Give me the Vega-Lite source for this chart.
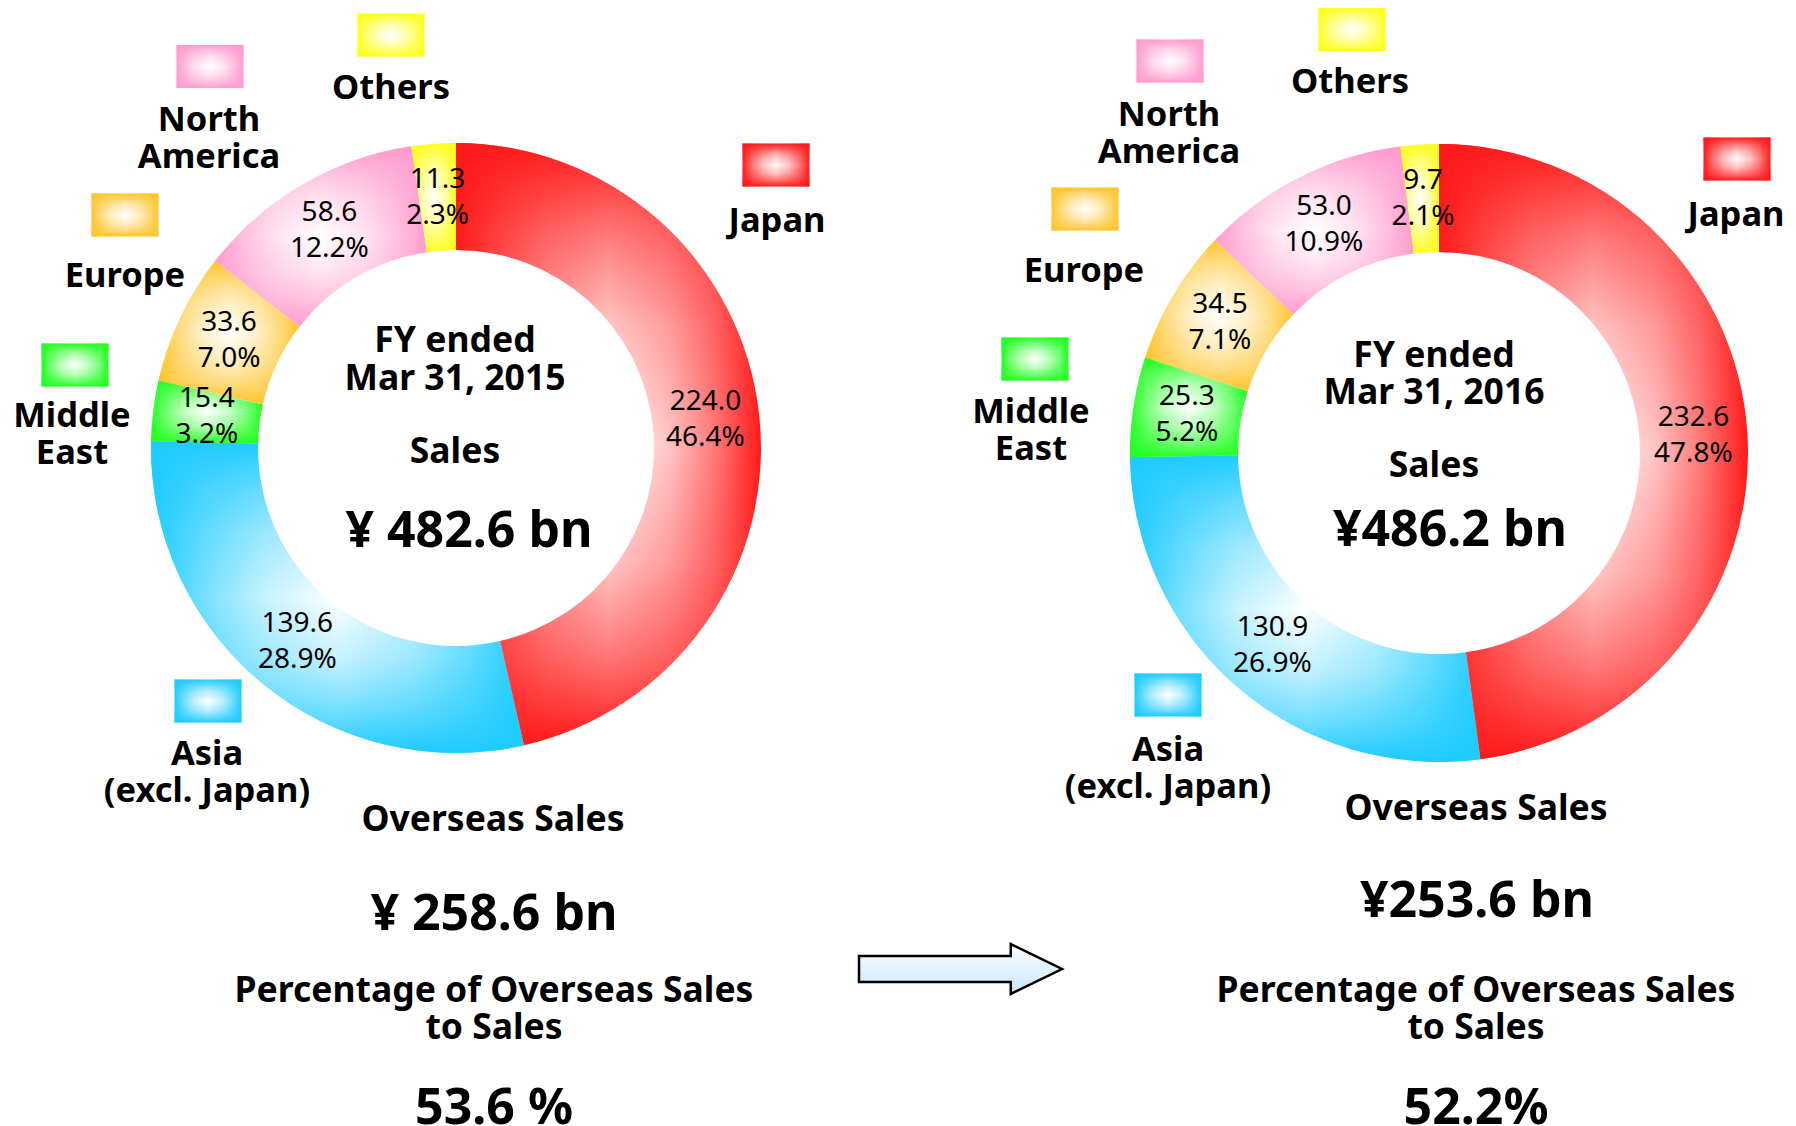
{
  "$schema": "https://vega.github.io/schema/vega-lite/v6.json",
  "width": 1796,
  "height": 1126,
  "autosize": "none",
  "padding": 0,
  "background": "white",
  "config": {"view": {"stroke": null}, "font": "Noto Sans", "text": {"font": "Noto Sans", "color": "#000000"}},
  "params": [
    {"name": "swatchX", "value": {"FY2015/Japan": 776, "FY2015/Asia": 208, "FY2015/Middle East": 75, "FY2015/Europe": 125, "FY2015/North America": 210, "FY2015/Others": 391, "FY2016/Japan": 1737, "FY2016/Asia": 1168, "FY2016/Middle East": 1035, "FY2016/Europe": 1085, "FY2016/North America": 1170, "FY2016/Others": 1352}},
    {"name": "swatchY", "value": {"FY2015/Japan": 165, "FY2015/Asia": 701, "FY2015/Middle East": 365, "FY2015/Europe": 215, "FY2015/North America": 66.5, "FY2015/Others": 35, "FY2016/Japan": 159, "FY2016/Asia": 695, "FY2016/Middle East": 359, "FY2016/Europe": 209, "FY2016/North America": 61, "FY2016/Others": 29.5}},
    {"name": "labelX", "value": {"FY2015/Japan": 777, "FY2015/Asia": 207, "FY2015/Middle East": 72, "FY2015/Europe": 125, "FY2015/North America": 209, "FY2015/Others": 391, "FY2016/Japan": 1736, "FY2016/Asia": 1168, "FY2016/Middle East": 1031, "FY2016/Europe": 1084, "FY2016/North America": 1169, "FY2016/Others": 1350}},
    {"name": "labelY", "value": {"FY2015/Japan": 205, "FY2015/Asia": 738, "FY2015/Middle East": 400, "FY2015/Europe": 260, "FY2015/North America": 104, "FY2015/Others": 72, "FY2016/Japan": 199, "FY2016/Asia": 734, "FY2016/Middle East": 396, "FY2016/Europe": 255, "FY2016/North America": 99, "FY2016/Others": 66}}
  ],
  "datasets": {
    "sales": [
      {"fy": "FY2015", "region": "Japan", "label": "Japan", "order": 1, "value": 224.0, "share": 0.464},
      {"fy": "FY2015", "region": "Asia", "label": "Asia\n(excl. Japan)", "order": 2, "value": 139.6, "share": 0.289},
      {"fy": "FY2015", "region": "Middle East", "label": "Middle\nEast", "order": 3, "value": 15.4, "share": 0.032},
      {"fy": "FY2015", "region": "Europe", "label": "Europe", "order": 4, "value": 33.6, "share": 0.070},
      {"fy": "FY2015", "region": "North America", "label": "North\nAmerica", "order": 5, "value": 58.6, "share": 0.122},
      {"fy": "FY2015", "region": "Others", "label": "Others", "order": 6, "value": 11.3, "share": 0.023},
      {"fy": "FY2016", "region": "Japan", "label": "Japan", "order": 1, "value": 232.6, "share": 0.478},
      {"fy": "FY2016", "region": "Asia", "label": "Asia\n(excl. Japan)", "order": 2, "value": 130.9, "share": 0.269},
      {"fy": "FY2016", "region": "Middle East", "label": "Middle\nEast", "order": 3, "value": 25.3, "share": 0.052},
      {"fy": "FY2016", "region": "Europe", "label": "Europe", "order": 4, "value": 34.5, "share": 0.071},
      {"fy": "FY2016", "region": "North America", "label": "North\nAmerica", "order": 5, "value": 53.0, "share": 0.109},
      {"fy": "FY2016", "region": "Others", "label": "Others", "order": 6, "value": 9.7, "share": 0.021}
    ]
  },
  "layer": [
    {
      "data": {"name": "sales"},
      "transform": [{"filter": "datum.fy === 'FY2015'"}],
      "mark": {"type": "arc", "outerRadius": 305, "innerRadius": 198},
      "encoding": {
        "theta": {"field": "value", "type": "quantitative", "stack": "normalize"},
        "order": {"field": "order", "type": "quantitative"},
        "detail": {"field": "region", "type": "nominal"},
        "x": {"value": 456}, "y": {"value": 448},
        "fill": {"condition": [
          {"test": "datum.region === 'Japan'", "value": {"gradient": "linear", "x1": 0, "y1": 0, "x2": 1, "y2": 0, "stops": [{"offset": 0, "color": "#ff1a1a"}, {"offset": 0.15, "color": "rgb(255,121,121)"}, {"offset": 0.3, "color": "rgb(255,197,197)"}, {"offset": 0.5, "color": "#ffffff"}, {"offset": 0.7, "color": "rgb(255,197,197)"}, {"offset": 0.85, "color": "rgb(255,121,121)"}, {"offset": 1, "color": "#ff1a1a"}]}},
          {"test": "datum.region === 'Asia'", "value": {"gradient": "linear", "x1": 0, "y1": 0, "x2": 1, "y2": 0, "stops": [{"offset": 0, "color": "#1ecbff"}, {"offset": 0.15, "color": "rgb(123,225,255)"}, {"offset": 0.3, "color": "rgb(198,242,255)"}, {"offset": 0.5, "color": "#ffffff"}, {"offset": 0.7, "color": "rgb(198,242,255)"}, {"offset": 0.85, "color": "rgb(123,225,255)"}, {"offset": 1, "color": "#1ecbff"}]}},
          {"test": "datum.region === 'Middle East'", "value": {"gradient": "linear", "x1": 0, "y1": 0, "x2": 1, "y2": 0, "stops": [{"offset": 0, "color": "#22ff22"}, {"offset": 0.15, "color": "rgb(126,255,126)"}, {"offset": 0.3, "color": "rgb(199,255,199)"}, {"offset": 0.5, "color": "#ffffff"}, {"offset": 0.7, "color": "rgb(199,255,199)"}, {"offset": 0.85, "color": "rgb(126,255,126)"}, {"offset": 1, "color": "#22ff22"}]}},
          {"test": "datum.region === 'Europe'", "value": {"gradient": "linear", "x1": 0, "y1": 0, "x2": 1, "y2": 0, "stops": [{"offset": 0, "color": "#ffc52e"}, {"offset": 0.15, "color": "rgb(255,221,133)"}, {"offset": 0.3, "color": "rgb(255,240,202)"}, {"offset": 0.5, "color": "#ffffff"}, {"offset": 0.7, "color": "rgb(255,240,202)"}, {"offset": 0.85, "color": "rgb(255,221,133)"}, {"offset": 1, "color": "#ffc52e"}]}},
          {"test": "datum.region === 'North America'", "value": {"gradient": "linear", "x1": 0, "y1": 0, "x2": 1, "y2": 0, "stops": [{"offset": 0, "color": "#ff9bcd"}, {"offset": 0.15, "color": "rgb(255,196,226)"}, {"offset": 0.3, "color": "rgb(255,230,242)"}, {"offset": 0.5, "color": "#ffffff"}, {"offset": 0.7, "color": "rgb(255,230,242)"}, {"offset": 0.85, "color": "rgb(255,196,226)"}, {"offset": 1, "color": "#ff9bcd"}]}},
          {"test": "datum.region === 'Others'", "value": {"gradient": "linear", "x1": 0, "y1": 0, "x2": 1, "y2": 0, "stops": [{"offset": 0, "color": "#ffff1e"}, {"offset": 0.15, "color": "rgb(255,255,123)"}, {"offset": 0.3, "color": "rgb(255,255,198)"}, {"offset": 0.5, "color": "#ffffff"}, {"offset": 0.7, "color": "rgb(255,255,198)"}, {"offset": 0.85, "color": "rgb(255,255,123)"}, {"offset": 1, "color": "#ffff1e"}]}}
        ], "value": "#cccccc"}
      }
    },
    {
      "data": {"name": "sales"},
      "transform": [{"filter": "datum.fy === 'FY2015'"}],
      "mark": {"type": "arc", "outerRadius": 305, "innerRadius": 198},
      "encoding": {
        "theta": {"field": "value", "type": "quantitative", "stack": "normalize"},
        "order": {"field": "order", "type": "quantitative"},
        "detail": {"field": "region", "type": "nominal"},
        "x": {"value": 456}, "y": {"value": 448},
        "fill": {"condition": [
          {"test": "datum.region === 'Japan'", "value": {"gradient": "linear", "x1": 0, "y1": 0, "x2": 0, "y2": 1, "stops": [{"offset": 0, "color": "rgba(255,26,26,1)"}, {"offset": 0.15, "color": "rgba(255,26,26,0.586)"}, {"offset": 0.3, "color": "rgba(255,26,26,0.253)"}, {"offset": 0.5, "color": "rgba(255,26,26,0)"}, {"offset": 0.7, "color": "rgba(255,26,26,0.253)"}, {"offset": 0.85, "color": "rgba(255,26,26,0.586)"}, {"offset": 1, "color": "rgba(255,26,26,1)"}]}},
          {"test": "datum.region === 'Asia'", "value": {"gradient": "linear", "x1": 0, "y1": 0, "x2": 0, "y2": 1, "stops": [{"offset": 0, "color": "rgba(30,203,255,1)"}, {"offset": 0.15, "color": "rgba(30,203,255,0.586)"}, {"offset": 0.3, "color": "rgba(30,203,255,0.253)"}, {"offset": 0.5, "color": "rgba(30,203,255,0)"}, {"offset": 0.7, "color": "rgba(30,203,255,0.253)"}, {"offset": 0.85, "color": "rgba(30,203,255,0.586)"}, {"offset": 1, "color": "rgba(30,203,255,1)"}]}},
          {"test": "datum.region === 'Middle East'", "value": {"gradient": "linear", "x1": 0, "y1": 0, "x2": 0, "y2": 1, "stops": [{"offset": 0, "color": "rgba(34,255,34,1)"}, {"offset": 0.15, "color": "rgba(34,255,34,0.586)"}, {"offset": 0.3, "color": "rgba(34,255,34,0.253)"}, {"offset": 0.5, "color": "rgba(34,255,34,0)"}, {"offset": 0.7, "color": "rgba(34,255,34,0.253)"}, {"offset": 0.85, "color": "rgba(34,255,34,0.586)"}, {"offset": 1, "color": "rgba(34,255,34,1)"}]}},
          {"test": "datum.region === 'Europe'", "value": {"gradient": "linear", "x1": 0, "y1": 0, "x2": 0, "y2": 1, "stops": [{"offset": 0, "color": "rgba(255,197,46,1)"}, {"offset": 0.15, "color": "rgba(255,197,46,0.586)"}, {"offset": 0.3, "color": "rgba(255,197,46,0.253)"}, {"offset": 0.5, "color": "rgba(255,197,46,0)"}, {"offset": 0.7, "color": "rgba(255,197,46,0.253)"}, {"offset": 0.85, "color": "rgba(255,197,46,0.586)"}, {"offset": 1, "color": "rgba(255,197,46,1)"}]}},
          {"test": "datum.region === 'North America'", "value": {"gradient": "linear", "x1": 0, "y1": 0, "x2": 0, "y2": 1, "stops": [{"offset": 0, "color": "rgba(255,155,205,1)"}, {"offset": 0.15, "color": "rgba(255,155,205,0.586)"}, {"offset": 0.3, "color": "rgba(255,155,205,0.253)"}, {"offset": 0.5, "color": "rgba(255,155,205,0)"}, {"offset": 0.7, "color": "rgba(255,155,205,0.253)"}, {"offset": 0.85, "color": "rgba(255,155,205,0.586)"}, {"offset": 1, "color": "rgba(255,155,205,1)"}]}},
          {"test": "datum.region === 'Others'", "value": {"gradient": "linear", "x1": 0, "y1": 0, "x2": 0, "y2": 1, "stops": [{"offset": 0, "color": "rgba(255,255,30,1)"}, {"offset": 0.15, "color": "rgba(255,255,30,0.586)"}, {"offset": 0.3, "color": "rgba(255,255,30,0.253)"}, {"offset": 0.5, "color": "rgba(255,255,30,0)"}, {"offset": 0.7, "color": "rgba(255,255,30,0.253)"}, {"offset": 0.85, "color": "rgba(255,255,30,0.586)"}, {"offset": 1, "color": "rgba(255,255,30,1)"}]}}
        ], "value": "rgba(0,0,0,0)"}
      }
    },
    {
      "data": {"name": "sales"},
      "transform": [{"filter": "datum.fy === 'FY2016'"}],
      "mark": {"type": "arc", "outerRadius": 309, "innerRadius": 201},
      "encoding": {
        "theta": {"field": "value", "type": "quantitative", "stack": "normalize"},
        "order": {"field": "order", "type": "quantitative"},
        "detail": {"field": "region", "type": "nominal"},
        "x": {"value": 1439}, "y": {"value": 453},
        "fill": {"condition": [
          {"test": "datum.region === 'Japan'", "value": {"gradient": "linear", "x1": 0, "y1": 0, "x2": 1, "y2": 0, "stops": [{"offset": 0, "color": "#ff1a1a"}, {"offset": 0.15, "color": "rgb(255,121,121)"}, {"offset": 0.3, "color": "rgb(255,197,197)"}, {"offset": 0.5, "color": "#ffffff"}, {"offset": 0.7, "color": "rgb(255,197,197)"}, {"offset": 0.85, "color": "rgb(255,121,121)"}, {"offset": 1, "color": "#ff1a1a"}]}},
          {"test": "datum.region === 'Asia'", "value": {"gradient": "linear", "x1": 0, "y1": 0, "x2": 1, "y2": 0, "stops": [{"offset": 0, "color": "#1ecbff"}, {"offset": 0.15, "color": "rgb(123,225,255)"}, {"offset": 0.3, "color": "rgb(198,242,255)"}, {"offset": 0.5, "color": "#ffffff"}, {"offset": 0.7, "color": "rgb(198,242,255)"}, {"offset": 0.85, "color": "rgb(123,225,255)"}, {"offset": 1, "color": "#1ecbff"}]}},
          {"test": "datum.region === 'Middle East'", "value": {"gradient": "linear", "x1": 0, "y1": 0, "x2": 1, "y2": 0, "stops": [{"offset": 0, "color": "#22ff22"}, {"offset": 0.15, "color": "rgb(126,255,126)"}, {"offset": 0.3, "color": "rgb(199,255,199)"}, {"offset": 0.5, "color": "#ffffff"}, {"offset": 0.7, "color": "rgb(199,255,199)"}, {"offset": 0.85, "color": "rgb(126,255,126)"}, {"offset": 1, "color": "#22ff22"}]}},
          {"test": "datum.region === 'Europe'", "value": {"gradient": "linear", "x1": 0, "y1": 0, "x2": 1, "y2": 0, "stops": [{"offset": 0, "color": "#ffc52e"}, {"offset": 0.15, "color": "rgb(255,221,133)"}, {"offset": 0.3, "color": "rgb(255,240,202)"}, {"offset": 0.5, "color": "#ffffff"}, {"offset": 0.7, "color": "rgb(255,240,202)"}, {"offset": 0.85, "color": "rgb(255,221,133)"}, {"offset": 1, "color": "#ffc52e"}]}},
          {"test": "datum.region === 'North America'", "value": {"gradient": "linear", "x1": 0, "y1": 0, "x2": 1, "y2": 0, "stops": [{"offset": 0, "color": "#ff9bcd"}, {"offset": 0.15, "color": "rgb(255,196,226)"}, {"offset": 0.3, "color": "rgb(255,230,242)"}, {"offset": 0.5, "color": "#ffffff"}, {"offset": 0.7, "color": "rgb(255,230,242)"}, {"offset": 0.85, "color": "rgb(255,196,226)"}, {"offset": 1, "color": "#ff9bcd"}]}},
          {"test": "datum.region === 'Others'", "value": {"gradient": "linear", "x1": 0, "y1": 0, "x2": 1, "y2": 0, "stops": [{"offset": 0, "color": "#ffff1e"}, {"offset": 0.15, "color": "rgb(255,255,123)"}, {"offset": 0.3, "color": "rgb(255,255,198)"}, {"offset": 0.5, "color": "#ffffff"}, {"offset": 0.7, "color": "rgb(255,255,198)"}, {"offset": 0.85, "color": "rgb(255,255,123)"}, {"offset": 1, "color": "#ffff1e"}]}}
        ], "value": "#cccccc"}
      }
    },
    {
      "data": {"name": "sales"},
      "transform": [{"filter": "datum.fy === 'FY2016'"}],
      "mark": {"type": "arc", "outerRadius": 309, "innerRadius": 201},
      "encoding": {
        "theta": {"field": "value", "type": "quantitative", "stack": "normalize"},
        "order": {"field": "order", "type": "quantitative"},
        "detail": {"field": "region", "type": "nominal"},
        "x": {"value": 1439}, "y": {"value": 453},
        "fill": {"condition": [
          {"test": "datum.region === 'Japan'", "value": {"gradient": "linear", "x1": 0, "y1": 0, "x2": 0, "y2": 1, "stops": [{"offset": 0, "color": "rgba(255,26,26,1)"}, {"offset": 0.15, "color": "rgba(255,26,26,0.586)"}, {"offset": 0.3, "color": "rgba(255,26,26,0.253)"}, {"offset": 0.5, "color": "rgba(255,26,26,0)"}, {"offset": 0.7, "color": "rgba(255,26,26,0.253)"}, {"offset": 0.85, "color": "rgba(255,26,26,0.586)"}, {"offset": 1, "color": "rgba(255,26,26,1)"}]}},
          {"test": "datum.region === 'Asia'", "value": {"gradient": "linear", "x1": 0, "y1": 0, "x2": 0, "y2": 1, "stops": [{"offset": 0, "color": "rgba(30,203,255,1)"}, {"offset": 0.15, "color": "rgba(30,203,255,0.586)"}, {"offset": 0.3, "color": "rgba(30,203,255,0.253)"}, {"offset": 0.5, "color": "rgba(30,203,255,0)"}, {"offset": 0.7, "color": "rgba(30,203,255,0.253)"}, {"offset": 0.85, "color": "rgba(30,203,255,0.586)"}, {"offset": 1, "color": "rgba(30,203,255,1)"}]}},
          {"test": "datum.region === 'Middle East'", "value": {"gradient": "linear", "x1": 0, "y1": 0, "x2": 0, "y2": 1, "stops": [{"offset": 0, "color": "rgba(34,255,34,1)"}, {"offset": 0.15, "color": "rgba(34,255,34,0.586)"}, {"offset": 0.3, "color": "rgba(34,255,34,0.253)"}, {"offset": 0.5, "color": "rgba(34,255,34,0)"}, {"offset": 0.7, "color": "rgba(34,255,34,0.253)"}, {"offset": 0.85, "color": "rgba(34,255,34,0.586)"}, {"offset": 1, "color": "rgba(34,255,34,1)"}]}},
          {"test": "datum.region === 'Europe'", "value": {"gradient": "linear", "x1": 0, "y1": 0, "x2": 0, "y2": 1, "stops": [{"offset": 0, "color": "rgba(255,197,46,1)"}, {"offset": 0.15, "color": "rgba(255,197,46,0.586)"}, {"offset": 0.3, "color": "rgba(255,197,46,0.253)"}, {"offset": 0.5, "color": "rgba(255,197,46,0)"}, {"offset": 0.7, "color": "rgba(255,197,46,0.253)"}, {"offset": 0.85, "color": "rgba(255,197,46,0.586)"}, {"offset": 1, "color": "rgba(255,197,46,1)"}]}},
          {"test": "datum.region === 'North America'", "value": {"gradient": "linear", "x1": 0, "y1": 0, "x2": 0, "y2": 1, "stops": [{"offset": 0, "color": "rgba(255,155,205,1)"}, {"offset": 0.15, "color": "rgba(255,155,205,0.586)"}, {"offset": 0.3, "color": "rgba(255,155,205,0.253)"}, {"offset": 0.5, "color": "rgba(255,155,205,0)"}, {"offset": 0.7, "color": "rgba(255,155,205,0.253)"}, {"offset": 0.85, "color": "rgba(255,155,205,0.586)"}, {"offset": 1, "color": "rgba(255,155,205,1)"}]}},
          {"test": "datum.region === 'Others'", "value": {"gradient": "linear", "x1": 0, "y1": 0, "x2": 0, "y2": 1, "stops": [{"offset": 0, "color": "rgba(255,255,30,1)"}, {"offset": 0.15, "color": "rgba(255,255,30,0.586)"}, {"offset": 0.3, "color": "rgba(255,255,30,0.253)"}, {"offset": 0.5, "color": "rgba(255,255,30,0)"}, {"offset": 0.7, "color": "rgba(255,255,30,0.253)"}, {"offset": 0.85, "color": "rgba(255,255,30,0.586)"}, {"offset": 1, "color": "rgba(255,255,30,1)"}]}}
        ], "value": "rgba(0,0,0,0)"}
      }
    },
    {
      "data": {"name": "sales"},
      "transform": [{"filter": "datum.fy === 'FY2015'"}],
      "mark": {"type": "text", "radius": 251, "dy": -18, "fontSize": 28},
      "encoding": {
        "theta": {"field": "value", "type": "quantitative", "stack": "normalize"},
        "order": {"field": "order", "type": "quantitative"},
        "detail": {"field": "region", "type": "nominal"},
        "x": {"value": 456}, "y": {"value": 448},
        "text": {"field": "value", "type": "quantitative", "format": ".1f"}
      }
    },
    {
      "data": {"name": "sales"},
      "transform": [{"filter": "datum.fy === 'FY2015'"}],
      "mark": {"type": "text", "radius": 251, "dy": 18, "fontSize": 28},
      "encoding": {
        "theta": {"field": "value", "type": "quantitative", "stack": "normalize"},
        "order": {"field": "order", "type": "quantitative"},
        "detail": {"field": "region", "type": "nominal"},
        "x": {"value": 456}, "y": {"value": 448},
        "text": {"field": "share", "type": "quantitative", "format": ".1%"}
      }
    },
    {
      "data": {"name": "sales"},
      "transform": [{"filter": "datum.fy === 'FY2016'"}],
      "mark": {"type": "text", "radius": 255, "dy": -18, "fontSize": 28},
      "encoding": {
        "theta": {"field": "value", "type": "quantitative", "stack": "normalize"},
        "order": {"field": "order", "type": "quantitative"},
        "detail": {"field": "region", "type": "nominal"},
        "x": {"value": 1439}, "y": {"value": 453},
        "text": {"field": "value", "type": "quantitative", "format": ".1f"}
      }
    },
    {
      "data": {"name": "sales"},
      "transform": [{"filter": "datum.fy === 'FY2016'"}],
      "mark": {"type": "text", "radius": 255, "dy": 18, "fontSize": 28},
      "encoding": {
        "theta": {"field": "value", "type": "quantitative", "stack": "normalize"},
        "order": {"field": "order", "type": "quantitative"},
        "detail": {"field": "region", "type": "nominal"},
        "x": {"value": 1439}, "y": {"value": 453},
        "text": {"field": "share", "type": "quantitative", "format": ".1%"}
      }
    },
    {
      "data": {"name": "sales"},
      "mark": {"type": "rect"},
      "encoding": {
        "x": {"value": {"expr": "swatchX[datum.fy + '/' + datum.region] - 33.5"}},
        "x2": {"value": {"expr": "swatchX[datum.fy + '/' + datum.region] + 33.5"}},
        "y": {"value": {"expr": "swatchY[datum.fy + '/' + datum.region] - 21.5"}},
        "y2": {"value": {"expr": "swatchY[datum.fy + '/' + datum.region] + 21.5"}},
        "fill": {"condition": [
          {"test": "datum.region === 'Japan'", "value": {"gradient": "linear", "x1": 0, "y1": 0, "x2": 1, "y2": 0, "stops": [{"offset": 0, "color": "#ff1a1a"}, {"offset": 0.15, "color": "rgb(255,121,121)"}, {"offset": 0.3, "color": "rgb(255,197,197)"}, {"offset": 0.5, "color": "#ffffff"}, {"offset": 0.7, "color": "rgb(255,197,197)"}, {"offset": 0.85, "color": "rgb(255,121,121)"}, {"offset": 1, "color": "#ff1a1a"}]}},
          {"test": "datum.region === 'Asia'", "value": {"gradient": "linear", "x1": 0, "y1": 0, "x2": 1, "y2": 0, "stops": [{"offset": 0, "color": "#1ecbff"}, {"offset": 0.15, "color": "rgb(123,225,255)"}, {"offset": 0.3, "color": "rgb(198,242,255)"}, {"offset": 0.5, "color": "#ffffff"}, {"offset": 0.7, "color": "rgb(198,242,255)"}, {"offset": 0.85, "color": "rgb(123,225,255)"}, {"offset": 1, "color": "#1ecbff"}]}},
          {"test": "datum.region === 'Middle East'", "value": {"gradient": "linear", "x1": 0, "y1": 0, "x2": 1, "y2": 0, "stops": [{"offset": 0, "color": "#22ff22"}, {"offset": 0.15, "color": "rgb(126,255,126)"}, {"offset": 0.3, "color": "rgb(199,255,199)"}, {"offset": 0.5, "color": "#ffffff"}, {"offset": 0.7, "color": "rgb(199,255,199)"}, {"offset": 0.85, "color": "rgb(126,255,126)"}, {"offset": 1, "color": "#22ff22"}]}},
          {"test": "datum.region === 'Europe'", "value": {"gradient": "linear", "x1": 0, "y1": 0, "x2": 1, "y2": 0, "stops": [{"offset": 0, "color": "#ffc52e"}, {"offset": 0.15, "color": "rgb(255,221,133)"}, {"offset": 0.3, "color": "rgb(255,240,202)"}, {"offset": 0.5, "color": "#ffffff"}, {"offset": 0.7, "color": "rgb(255,240,202)"}, {"offset": 0.85, "color": "rgb(255,221,133)"}, {"offset": 1, "color": "#ffc52e"}]}},
          {"test": "datum.region === 'North America'", "value": {"gradient": "linear", "x1": 0, "y1": 0, "x2": 1, "y2": 0, "stops": [{"offset": 0, "color": "#ff9bcd"}, {"offset": 0.15, "color": "rgb(255,196,226)"}, {"offset": 0.3, "color": "rgb(255,230,242)"}, {"offset": 0.5, "color": "#ffffff"}, {"offset": 0.7, "color": "rgb(255,230,242)"}, {"offset": 0.85, "color": "rgb(255,196,226)"}, {"offset": 1, "color": "#ff9bcd"}]}},
          {"test": "datum.region === 'Others'", "value": {"gradient": "linear", "x1": 0, "y1": 0, "x2": 1, "y2": 0, "stops": [{"offset": 0, "color": "#ffff1e"}, {"offset": 0.15, "color": "rgb(255,255,123)"}, {"offset": 0.3, "color": "rgb(255,255,198)"}, {"offset": 0.5, "color": "#ffffff"}, {"offset": 0.7, "color": "rgb(255,255,198)"}, {"offset": 0.85, "color": "rgb(255,255,123)"}, {"offset": 1, "color": "#ffff1e"}]}}
        ], "value": "#cccccc"}
      }
    },
    {
      "data": {"name": "sales"},
      "mark": {"type": "rect"},
      "encoding": {
        "x": {"value": {"expr": "swatchX[datum.fy + '/' + datum.region] - 33.5"}},
        "x2": {"value": {"expr": "swatchX[datum.fy + '/' + datum.region] + 33.5"}},
        "y": {"value": {"expr": "swatchY[datum.fy + '/' + datum.region] - 21.5"}},
        "y2": {"value": {"expr": "swatchY[datum.fy + '/' + datum.region] + 21.5"}},
        "fill": {"condition": [
          {"test": "datum.region === 'Japan'", "value": {"gradient": "linear", "x1": 0, "y1": 0, "x2": 0, "y2": 1, "stops": [{"offset": 0, "color": "rgba(255,26,26,1)"}, {"offset": 0.15, "color": "rgba(255,26,26,0.586)"}, {"offset": 0.3, "color": "rgba(255,26,26,0.253)"}, {"offset": 0.5, "color": "rgba(255,26,26,0)"}, {"offset": 0.7, "color": "rgba(255,26,26,0.253)"}, {"offset": 0.85, "color": "rgba(255,26,26,0.586)"}, {"offset": 1, "color": "rgba(255,26,26,1)"}]}},
          {"test": "datum.region === 'Asia'", "value": {"gradient": "linear", "x1": 0, "y1": 0, "x2": 0, "y2": 1, "stops": [{"offset": 0, "color": "rgba(30,203,255,1)"}, {"offset": 0.15, "color": "rgba(30,203,255,0.586)"}, {"offset": 0.3, "color": "rgba(30,203,255,0.253)"}, {"offset": 0.5, "color": "rgba(30,203,255,0)"}, {"offset": 0.7, "color": "rgba(30,203,255,0.253)"}, {"offset": 0.85, "color": "rgba(30,203,255,0.586)"}, {"offset": 1, "color": "rgba(30,203,255,1)"}]}},
          {"test": "datum.region === 'Middle East'", "value": {"gradient": "linear", "x1": 0, "y1": 0, "x2": 0, "y2": 1, "stops": [{"offset": 0, "color": "rgba(34,255,34,1)"}, {"offset": 0.15, "color": "rgba(34,255,34,0.586)"}, {"offset": 0.3, "color": "rgba(34,255,34,0.253)"}, {"offset": 0.5, "color": "rgba(34,255,34,0)"}, {"offset": 0.7, "color": "rgba(34,255,34,0.253)"}, {"offset": 0.85, "color": "rgba(34,255,34,0.586)"}, {"offset": 1, "color": "rgba(34,255,34,1)"}]}},
          {"test": "datum.region === 'Europe'", "value": {"gradient": "linear", "x1": 0, "y1": 0, "x2": 0, "y2": 1, "stops": [{"offset": 0, "color": "rgba(255,197,46,1)"}, {"offset": 0.15, "color": "rgba(255,197,46,0.586)"}, {"offset": 0.3, "color": "rgba(255,197,46,0.253)"}, {"offset": 0.5, "color": "rgba(255,197,46,0)"}, {"offset": 0.7, "color": "rgba(255,197,46,0.253)"}, {"offset": 0.85, "color": "rgba(255,197,46,0.586)"}, {"offset": 1, "color": "rgba(255,197,46,1)"}]}},
          {"test": "datum.region === 'North America'", "value": {"gradient": "linear", "x1": 0, "y1": 0, "x2": 0, "y2": 1, "stops": [{"offset": 0, "color": "rgba(255,155,205,1)"}, {"offset": 0.15, "color": "rgba(255,155,205,0.586)"}, {"offset": 0.3, "color": "rgba(255,155,205,0.253)"}, {"offset": 0.5, "color": "rgba(255,155,205,0)"}, {"offset": 0.7, "color": "rgba(255,155,205,0.253)"}, {"offset": 0.85, "color": "rgba(255,155,205,0.586)"}, {"offset": 1, "color": "rgba(255,155,205,1)"}]}},
          {"test": "datum.region === 'Others'", "value": {"gradient": "linear", "x1": 0, "y1": 0, "x2": 0, "y2": 1, "stops": [{"offset": 0, "color": "rgba(255,255,30,1)"}, {"offset": 0.15, "color": "rgba(255,255,30,0.586)"}, {"offset": 0.3, "color": "rgba(255,255,30,0.253)"}, {"offset": 0.5, "color": "rgba(255,255,30,0)"}, {"offset": 0.7, "color": "rgba(255,255,30,0.253)"}, {"offset": 0.85, "color": "rgba(255,255,30,0.586)"}, {"offset": 1, "color": "rgba(255,255,30,1)"}]}}
        ], "value": "rgba(0,0,0,0)"}
      }
    },
    {
      "data": {"name": "sales"},
      "mark": {"type": "text", "fontSize": 34.5, "fontWeight": "bold", "baseline": "top", "lineBreak": "\n", "lineHeight": 37},
      "encoding": {
        "x": {"value": {"expr": "labelX[datum.fy + '/' + datum.region]"}},
        "y": {"value": {"expr": "labelY[datum.fy + '/' + datum.region]"}},
        "text": {"field": "label", "type": "nominal"}
      }
    },
    {"data": {"values": [{}]}, "mark": {"type": "text", "x": 455, "y": 323.5, "baseline": "top", "fontSize": 35.5, "fontWeight": "bold", "lineHeight": 38, "text": ["FY ended", "Mar 31, 2015"]}, "encoding": {}},
    {"data": {"values": [{}]}, "mark": {"type": "text", "x": 455, "y": 434.5, "baseline": "top", "fontSize": 35.5, "fontWeight": "bold", "text": "Sales"}, "encoding": {}},
    {"data": {"values": [{}]}, "mark": {"type": "text", "x": 469, "y": 506.5, "baseline": "top", "fontSize": 50, "fontWeight": "bold", "text": "¥ 482.6 bn"}, "encoding": {}},
    {"data": {"values": [{}]}, "mark": {"type": "text", "x": 493, "y": 802.5, "baseline": "top", "fontSize": 35.5, "fontWeight": "bold", "text": "Overseas Sales"}, "encoding": {}},
    {"data": {"values": [{}]}, "mark": {"type": "text", "x": 494, "y": 889.5, "baseline": "top", "fontSize": 50, "fontWeight": "bold", "text": "¥ 258.6 bn"}, "encoding": {}},
    {"data": {"values": [{}]}, "mark": {"type": "text", "x": 494, "y": 973.5, "baseline": "top", "fontSize": 35.5, "fontWeight": "bold", "lineHeight": 37.5, "text": ["Percentage of Overseas Sales", "to Sales"]}, "encoding": {}},
    {"data": {"values": [{}]}, "mark": {"type": "text", "x": 494, "y": 1083.5, "baseline": "top", "fontSize": 50, "fontWeight": "bold", "text": "53.6 %"}, "encoding": {}},
    {"data": {"values": [{}]}, "mark": {"type": "text", "x": 1434, "y": 338.5, "baseline": "top", "fontSize": 35.5, "fontWeight": "bold", "lineHeight": 37, "text": ["FY ended", "Mar 31, 2016"]}, "encoding": {}},
    {"data": {"values": [{}]}, "mark": {"type": "text", "x": 1434, "y": 448.5, "baseline": "top", "fontSize": 35.5, "fontWeight": "bold", "text": "Sales"}, "encoding": {}},
    {"data": {"values": [{}]}, "mark": {"type": "text", "x": 1450, "y": 505.5, "baseline": "top", "fontSize": 50, "fontWeight": "bold", "text": "¥486.2 bn"}, "encoding": {}},
    {"data": {"values": [{}]}, "mark": {"type": "text", "x": 1476, "y": 791.5, "baseline": "top", "fontSize": 35.5, "fontWeight": "bold", "text": "Overseas Sales"}, "encoding": {}},
    {"data": {"values": [{}]}, "mark": {"type": "text", "x": 1477, "y": 876.5, "baseline": "top", "fontSize": 50, "fontWeight": "bold", "text": "¥253.6 bn"}, "encoding": {}},
    {"data": {"values": [{}]}, "mark": {"type": "text", "x": 1476, "y": 973.5, "baseline": "top", "fontSize": 35.5, "fontWeight": "bold", "lineHeight": 37, "text": ["Percentage of Overseas Sales", "to Sales"]}, "encoding": {}},
    {"data": {"values": [{}]}, "mark": {"type": "text", "x": 1476, "y": 1083.5, "baseline": "top", "fontSize": 50, "fontWeight": "bold", "text": "52.2%"}, "encoding": {}},
    {
      "data": {"values": [{}]},
      "mark": {
        "type": "point",
        "x": 960.5,
        "y": 969,
        "size": 41209,
        "shape": "M-1,-0.128L0.495,-0.128L0.495,-0.246L1,0L0.495,0.246L0.495,0.128L-1,0.128Z",
        "filled": true,
        "opacity": 1,
        "fillOpacity": 1,
        "fill": {"gradient": "linear", "x1": 0, "y1": 0, "x2": 0, "y2": 1, "stops": [{"offset": 0, "color": "#ffffff"}, {"offset": 1, "color": "#c9e6fa"}]},
        "stroke": "#000000",
        "strokeWidth": 2.5
      },
      "encoding": {}
    }
  ]
}
